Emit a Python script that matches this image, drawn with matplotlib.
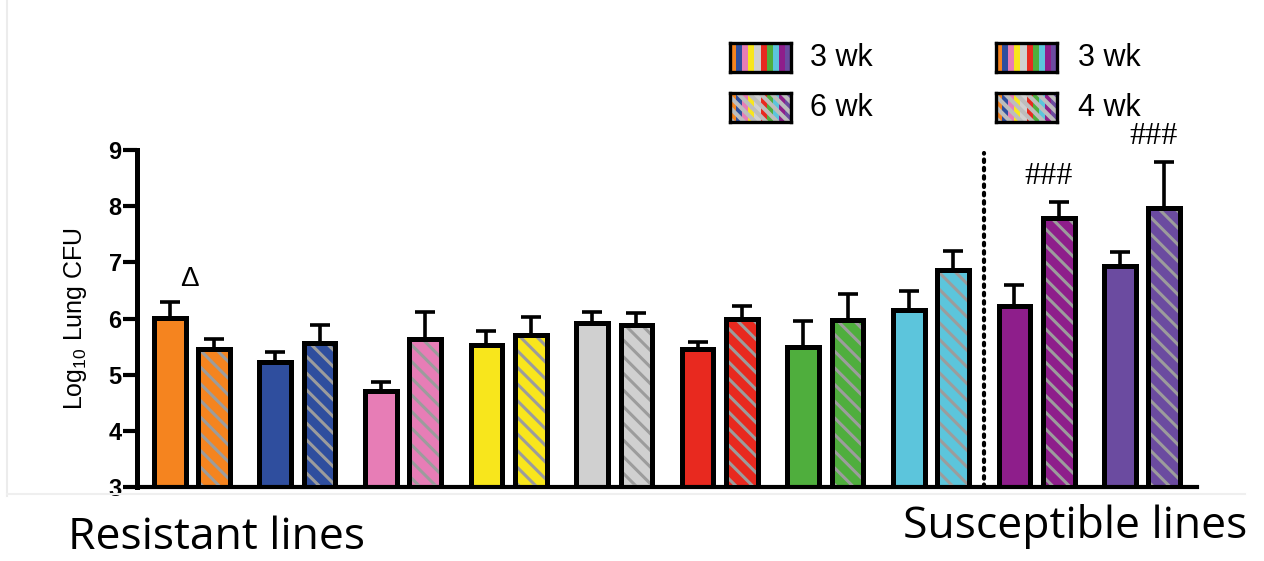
import matplotlib.pyplot as plt
from matplotlib.lines import Line2D
import numpy as np

# one colour per mouse line, resistant lines first, susceptible last two
line_colors = ['#F5841F', '#2F4E9E', '#E77DB6', '#F8E61C', '#D0D0D0',
               '#E8291F', '#4FAE3D', '#5CC5DC', '#8E1E8B', '#6B4BA0']

# log10 lung CFU, mean and upper SEM
early_mean = [6.01, 5.23, 4.71, 5.52, 5.92, 5.46, 5.49, 6.15, 6.23, 6.93]
early_sem = [0.29, 0.17, 0.16, 0.25, 0.20, 0.13, 0.46, 0.34, 0.37, 0.26]
late_mean = [5.46, 5.56, 5.64, 5.71, 5.89, 5.99, 5.98, 6.87, 7.79, 7.96]
late_sem = [0.17, 0.32, 0.47, 0.31, 0.20, 0.24, 0.45, 0.33, 0.28, 0.83]

legend_labels = [['3 wk', '6 wk'], ['3 wk', '4 wk']]
marks = [(0, 'early', '\u0394'), (8, 'late', '###'), (9, 'late', '###')]

plt.rcParams['font.family'] = 'Liberation Sans'
plt.rcParams['hatch.linewidth'] = 2.2

W, H = 1264, 561
fig = plt.figure(figsize=(W / 100, H / 100), dpi=100)
ax = fig.add_axes([137 / W, 74 / H, 1060 / W, 337 / H])

x = np.arange(len(line_colors))
off = 0.21
bw = 0.30
edge_lw = 3.6
hatch_gray = '#9c9c9c'

ax.errorbar(x - off, early_mean, yerr=[np.zeros(len(x)), early_sem], fmt='none',
            ecolor='black', elinewidth=2.6, capsize=7.5, capthick=2.6, zorder=1)
ax.errorbar(x + off, late_mean, yerr=[np.zeros(len(x)), late_sem], fmt='none',
            ecolor='black', elinewidth=2.6, capsize=7.5, capthick=2.6, zorder=1)

ax.bar(x - off, np.array(early_mean) - 3, bw, bottom=3, color=line_colors,
       edgecolor='black', linewidth=edge_lw, zorder=2)

# hatched bars: fill, grey stripes, then black outline on top
ax.bar(x + off, np.array(late_mean) - 3, bw, bottom=3, color=line_colors,
       edgecolor='none', linewidth=0, zorder=2)
ax.bar(x + off, np.array(late_mean) - 3, bw, bottom=3, facecolor='none',
       edgecolor=hatch_gray, hatch='\\\\', linewidth=0, zorder=3)
ax.bar(x + off, np.array(late_mean) - 3, bw, bottom=3, fill=False,
       edgecolor='black', linewidth=edge_lw, zorder=4)

# resistant / susceptible divider
ax.plot([7.5, 7.5], [3, 8.95], color='black', linestyle=(0, (0.6, 1.4)),
        linewidth=3, dash_capstyle='round', zorder=1)

for i, which, txt in marks:
    if which == 'early':
        ax.text(i - 0.02, early_mean[i] + early_sem[i] + 0.4, txt,
                ha='center', va='center', fontsize=20)
    else:
        ax.text(i + off - 0.1, late_mean[i] + late_sem[i] + 0.45, txt,
                ha='center', va='center', fontsize=23, family='Liberation Serif',
                clip_on=False)

ax.set_ylim(3, 9)
ax.set_xlim(-0.52, 9.52)
ax.set_yticks(range(3, 10))
ax.set_xticks([])
for side in ['top', 'right']:
    ax.spines[side].set_visible(False)
ax.spines['left'].set_linewidth(3.6)
ax.spines['bottom'].set_linewidth(3.0)
ax.tick_params(axis='y', length=10, width=3, pad=1, labelsize=17)
for lab in ax.get_yticklabels():
    lab.set_fontweight('bold')

ax.set_ylabel('Log$_{\\mathregular{10}}$ Lung CFU', fontsize=18)
ax.yaxis.label.set_va('center')
ax.yaxis.set_label_coords(-0.058, 0.5)


def swatch(px, py, hatched):
    sw = fig.add_axes([px / W, 1 - (py + 29) / H, 61 / W, 29 / H])
    sw.bar(np.arange(len(line_colors)), 1, 1.0, color=line_colors, linewidth=0)
    if hatched:
        plt.rcParams['hatch.linewidth'] = 3.0
        sw.bar(np.arange(len(line_colors)), 1, 1.0, facecolor='none',
               edgecolor='#bdbdbd', hatch='\\\\\\', linewidth=0)
    sw.set_xlim(-0.5, len(line_colors) - 0.5)
    sw.set_ylim(0, 1)
    sw.set_xticks([])
    sw.set_yticks([])
    for s in sw.spines.values():
        s.set_linewidth(2.4)


for col, (bx, tx) in enumerate([(730, 810), (996, 1078)]):
    for row, by in enumerate([43, 93]):
        swatch(bx, by, row == 1)
        fig.text(tx / W, 1 - (by + 15) / H, legend_labels[col][row],
                 fontsize=22, va='center', ha='left')

fig.text(68 / W, 1 - 549 / H, 'Resistant lines', fontsize=32,
         family='Open Sans', va='baseline')
fig.text(903 / W, 1 - 538 / H, 'Susceptible lines', fontsize=32,
         family='Open Sans', va='baseline')

# faint frame edge
fig.add_artist(Line2D([7 / W, 7 / W], [1, 1 - 496 / H], color='#ececec', lw=1.5))
fig.add_artist(Line2D([7 / W, 1245 / W], [1 - 494 / H, 1 - 494 / H],
                      color='#efefef', lw=1.5))

fig.savefig('out.png', dpi=100)
